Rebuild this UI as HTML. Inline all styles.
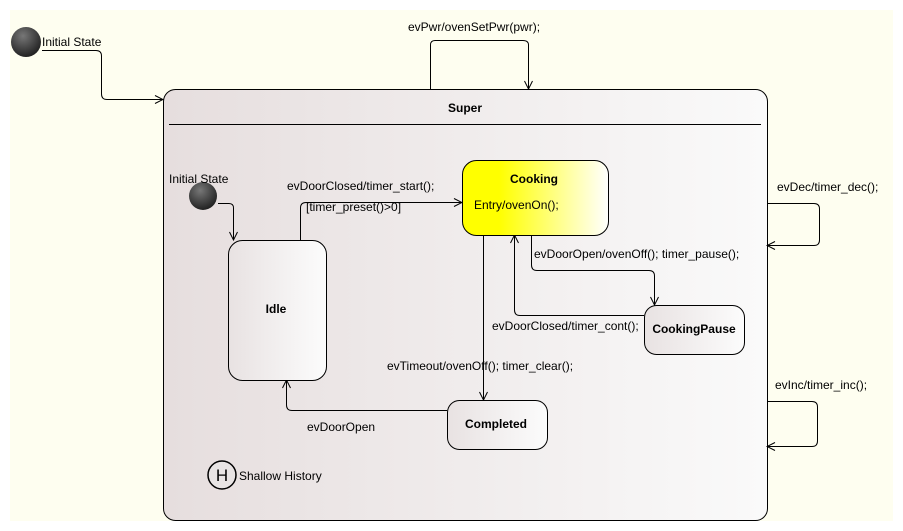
<!DOCTYPE html>
<html><head><meta charset="utf-8"><style>
html,body{margin:0;padding:0;background:#fff;width:903px;height:531px;overflow:hidden}
svg text{font-family:"Liberation Sans",sans-serif;font-size:12px;fill:#000}
.b{font-weight:bold}
</style></head><body>
<svg width="903" height="531" xmlns="http://www.w3.org/2000/svg">
<defs>
<linearGradient id="sg" x1="0" x2="1" y1="0" y2="0"><stop offset="0" stop-color="#e6dede"/><stop offset="1" stop-color="#fafafa"/></linearGradient>
<linearGradient id="ng" x1="0" x2="1" y1="0" y2="0"><stop offset="0" stop-color="#e8e2e2"/><stop offset="1" stop-color="#fcfcfc"/></linearGradient>
<linearGradient id="yg" x1="0" x2="1" y1="0" y2="0"><stop offset="0.25" stop-color="#ffff00"/><stop offset="1" stop-color="#ffffff"/></linearGradient>
<radialGradient id="ball" cx="0.4" cy="0.3" r="0.7"><stop offset="0" stop-color="#777"/><stop offset="1" stop-color="#222"/></radialGradient>
<marker id="a" markerWidth="10" markerHeight="10" refX="9" refY="5" orient="auto" markerUnits="userSpaceOnUse"><path d="M1,1 L9,5 L1,9" fill="none" stroke="#000" stroke-width="1"/></marker>
</defs>
<rect x="10" y="10" width="883" height="511" fill="#fefef0"/>
<rect x="163.5" y="89.5" width="604" height="431" rx="12" fill="url(#sg)" stroke="#000"/>
<line x1="169" y1="124.5" x2="761" y2="124.5" stroke="#000"/>
<text x="465" y="112" class="b" text-anchor="middle">Super</text>
<circle cx="26" cy="42" r="15" fill="url(#ball)"/>
<text x="42" y="46">Initial State</text>
<path d="M42,50.5 H96 Q101.5,50.5 101.5,56 V94 Q101.5,99.5 107,99.5 H163" fill="none" stroke="#000" marker-end="url(#a)"/>
<path d="M430.5,89 V45 Q430.5,40.5 435,40.5 H523 Q528.5,40.5 528.5,45 V89" fill="none" stroke="#000" marker-end="url(#a)"/>
<text x="408" y="31">evPwr/ovenSetPwr(pwr);</text>
<path d="M767,203.5 H814 Q819.5,203.5 819.5,209 V240 Q819.5,245.5 814,245.5 H767" fill="none" stroke="#000" marker-end="url(#a)"/>
<text x="777" y="191">evDec/timer_dec();</text>
<path d="M767,401.5 H812 Q817.5,401.5 817.5,407 V441 Q817.5,446.5 812,446.5 H767" fill="none" stroke="#000" marker-end="url(#a)"/>
<text x="775" y="389">evInc/timer_inc();</text>
<circle cx="203" cy="196" r="14" fill="url(#ball)"/>
<text x="169" y="183">Initial State</text>
<path d="M218,203.5 H229 Q233.5,203.5 233.5,208 V240" fill="none" stroke="#000" marker-end="url(#a)"/>
<path d="M300.5,240 V208 Q300.5,202.5 306,202.5 H462" fill="none" stroke="#000" marker-end="url(#a)"/>
<text x="287" y="190">evDoorClosed/timer_start();</text>
<text x="306" y="211">[timer_preset()&gt;0]</text>
<path d="M483.5,235 V400" fill="none" stroke="#000" marker-end="url(#a)"/>
<text x="387" y="370">evTimeout/ovenOff(); timer_clear();</text>
<path d="M531.5,235 V265 Q531.5,270.5 537,270.5 H649 Q654.5,270.5 654.5,276 V305" fill="none" stroke="#000" marker-end="url(#a)"/>
<text x="534" y="258">evDoorOpen/ovenOff(); timer_pause();</text>
<path d="M644,315.5 H520 Q514.5,315.5 514.5,310 V235" fill="none" stroke="#000" marker-end="url(#a)"/>
<text x="492" y="330">evDoorClosed/timer_cont();</text>
<path d="M447,410.5 H292 Q286.5,410.5 286.5,405 V380" fill="none" stroke="#000" marker-end="url(#a)"/>
<text x="307" y="431">evDoorOpen</text>
<rect x="228.5" y="240.5" width="98" height="140" rx="14" fill="url(#ng)" stroke="#000"/>
<text x="276" y="313" class="b" text-anchor="middle">Idle</text>
<rect x="462.5" y="160.5" width="146" height="75" rx="14" fill="url(#yg)" stroke="#000"/>
<text x="534" y="183" class="b" text-anchor="middle">Cooking</text>
<text x="474" y="209">Entry/ovenOn();</text>
<rect x="644.5" y="305.5" width="100" height="49" rx="12" fill="url(#ng)" stroke="#000"/>
<text x="694" y="333" class="b" text-anchor="middle">CookingPause</text>
<rect x="447.5" y="400.5" width="100" height="49" rx="12" fill="url(#ng)" stroke="#000"/>
<text x="496" y="428" class="b" text-anchor="middle">Completed</text>
<circle cx="222" cy="475" r="14" fill="#e8e4e4" stroke="#000" stroke-width="1.5"/>
<text x="222" y="481" text-anchor="middle" style="font-size:17px">H</text>
<text x="239" y="480">Shallow History</text>
</svg>
</body></html>
